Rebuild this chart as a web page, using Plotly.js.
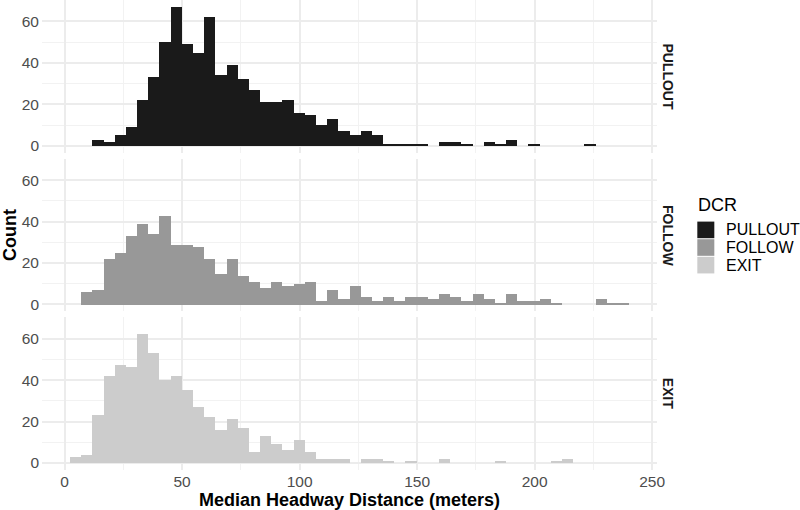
<!DOCTYPE html>
<html>
<head>
<meta charset="utf-8">
<script src="https://cdn.plot.ly/plotly-3.0.1.min.js"></script>
<style>
  html, body { margin: 0; padding: 0; background: #ffffff; }
  #chart { width: 800px; height: 510px; }
</style>
</head>
<body>
<div id="chart"></div>
<script>
// ---- Data ----
const facets = ["PULLOUT", "FOLLOW", "EXIT"];
const fillColors = ["#1A1A1A", "#989898", "#CCCCCC"];
const binStart = 2.28;   // left edge of the first histogram bin (meters)
const binWidth = 4.758;  // histogram bin width (meters), 50 bins

const pulloutCounts = [0,0,3,2,5,9,22,33,50,67,49,45,62,34,39,32,27,21,21,22,16,15,10,13,7,5,7,5,1,1,1,1,0,2,2,1,0,2,1,3,0,1,0,0,0,0,1,0,0,0];
const followCounts  = [0,6,7,22,25,33,39,34,43,29,29,28,22,15,22,14,11,8,11,9,10,11,2,7,3,9,4,2,4,2,4,4,3,5,4,2,5,3,1,5,2,2,3,1,0,0,0,3,1,1];
const exitCounts    = [3,4,23,42,47,46,62,53,40,42,35,27,22,16,21,17,5,13,9,6,11,5,2,2,2,0,2,2,1,0,1,0,0,2,0,0,0,0,1,0,0,0,0,1,2,0,0,0,0,0];

const xTickVals = [0, 50, 100, 150, 200, 250];
const yTickVals = [0, 20, 40, 60];

const xTitle = "Median Headway Distance (meters)";
const yTitle = "Count";
const legendTitle = "DCR";

// ---- Build ----
const allCounts = [pulloutCounts, followCounts, exitCounts];
const centers = pulloutCounts.map((_, k) => binStart + binWidth * (k + 0.5));

const traces = allCounts.map((counts, i) => ({
  type: "bar",
  name: facets[i],
  x: centers,
  y: counts,
  width: binWidth,
  marker: { color: fillColors[i], line: { width: 0 } },
  xaxis: i === 0 ? "x" : "x" + (i + 1),
  yaxis: i === 0 ? "y" : "y" + (i + 1),
  showlegend: false,
  hovertemplate: facets[i] + "<br>%{x:.1f} m: %{y}<extra></extra>"
}));

const xMin = binStart - 2.5 * binWidth;
const xMax = binStart + 52.5 * binWidth;
const yMax = Math.max(...allCounts.flat());
const yRange = [-0.05 * yMax, yMax * 1.05];

const gridMajor = "#ECECEC";
const gridMinor = "#F2F2F2";
const tickFont = { family: "Liberation Sans, Arial, sans-serif", size: 15.5, color: "#4D4D4D" };

function xAxis(showLabels, anchor) {
  return {
    domain: [0, 1], anchor: anchor, range: [xMin, xMax],
    tickvals: xTickVals, showticklabels: showLabels, ticks: "",
    showgrid: true, gridcolor: gridMajor, gridwidth: 2,
    minor: { dtick: 25, tick0: 0, showgrid: true, gridcolor: gridMinor, gridwidth: 1 },
    zeroline: false, showline: false, tickfont: tickFont,
    matches: anchor === "y" ? undefined : "x"
  };
}
function yAxis(domain, anchor) {
  return {
    domain: domain, anchor: anchor, range: yRange,
    tickvals: yTickVals, ticks: "",
    showgrid: true, gridcolor: gridMajor, gridwidth: 2,
    minor: { dtick: 10, tick0: 0, showgrid: true, gridcolor: gridMinor, gridwidth: 1 },
    zeroline: false, showline: false, tickfont: tickFont, ticklabelstandoff: 2
  };
}

const domains = [[0.675, 1], [0.3375, 0.6625], [0, 0.325]];

const layout = {
  width: 800, height: 510,
  margin: { l: 42.4, r: 142.8, t: 0, b: 40.4 },
  paper_bgcolor: "#ffffff", plot_bgcolor: "#ffffff",
  bargap: 0,
  dragmode: false,
  font: { family: "Liberation Sans, Arial, sans-serif", color: "#000000" },
  xaxis: xAxis(false, "y"),
  xaxis2: xAxis(false, "y2"),
  xaxis3: Object.assign(xAxis(true, "y3"), {
    title: { text: xTitle, font: { size: 18, color: "#000000", weight: "bold" }, standoff: 6 }
  }),
  yaxis: yAxis(domains[0], "x"),
  yaxis2: Object.assign(yAxis(domains[1], "x2"), {
    title: { text: yTitle, font: { size: 18, color: "#000000", weight: "bold" }, standoff: 8 }
  }),
  yaxis3: yAxis(domains[2], "x3"),
  shapes: [],
  annotations: []
};

// facet strip labels (right side, rotated)
facets.forEach((f, i) => {
  layout.annotations.push({
    text: f, xref: "paper", yref: "paper",
    x: 1, xanchor: "center", xshift: 11,
    y: (domains[i][0] + domains[i][1]) / 2, yanchor: "middle",
    textangle: 90, showarrow: false,
    font: { size: 14, color: "#1A1A1A", weight: "bold" }
  });
});

// legend (drawn as keys + labels)
const plotH = 510 - 40.4, plotW = 800 - 42.4 - 142.8;
const px2x = px => (px - 42.4) / plotW;
const py2y = py => (plotH - py) / plotH;
layout.annotations.push({
  text: legendTitle, xref: "paper", yref: "paper",
  x: px2x(696), xanchor: "left", y: py2y(205), yanchor: "middle",
  showarrow: false, font: { size: 18, color: "#000000" }
});
facets.forEach((f, i) => {
  const cy = 229.7 + i * 17.6;
  layout.shapes.push({
    type: "rect", xref: "paper", yref: "paper",
    x0: px2x(697.5), x1: px2x(714.5), y0: py2y(cy + 8.3), y1: py2y(cy - 8.3),
    fillcolor: fillColors[i], line: { width: 0 }
  });
  layout.annotations.push({
    text: f, xref: "paper", yref: "paper",
    x: px2x(724), xanchor: "left", y: py2y(cy), yanchor: "middle",
    showarrow: false, font: { size: 16, color: "#000000" }
  });
});

Plotly.newPlot("chart", traces, layout, { displayModeBar: false, responsive: false });
</script>
</body>
</html>
